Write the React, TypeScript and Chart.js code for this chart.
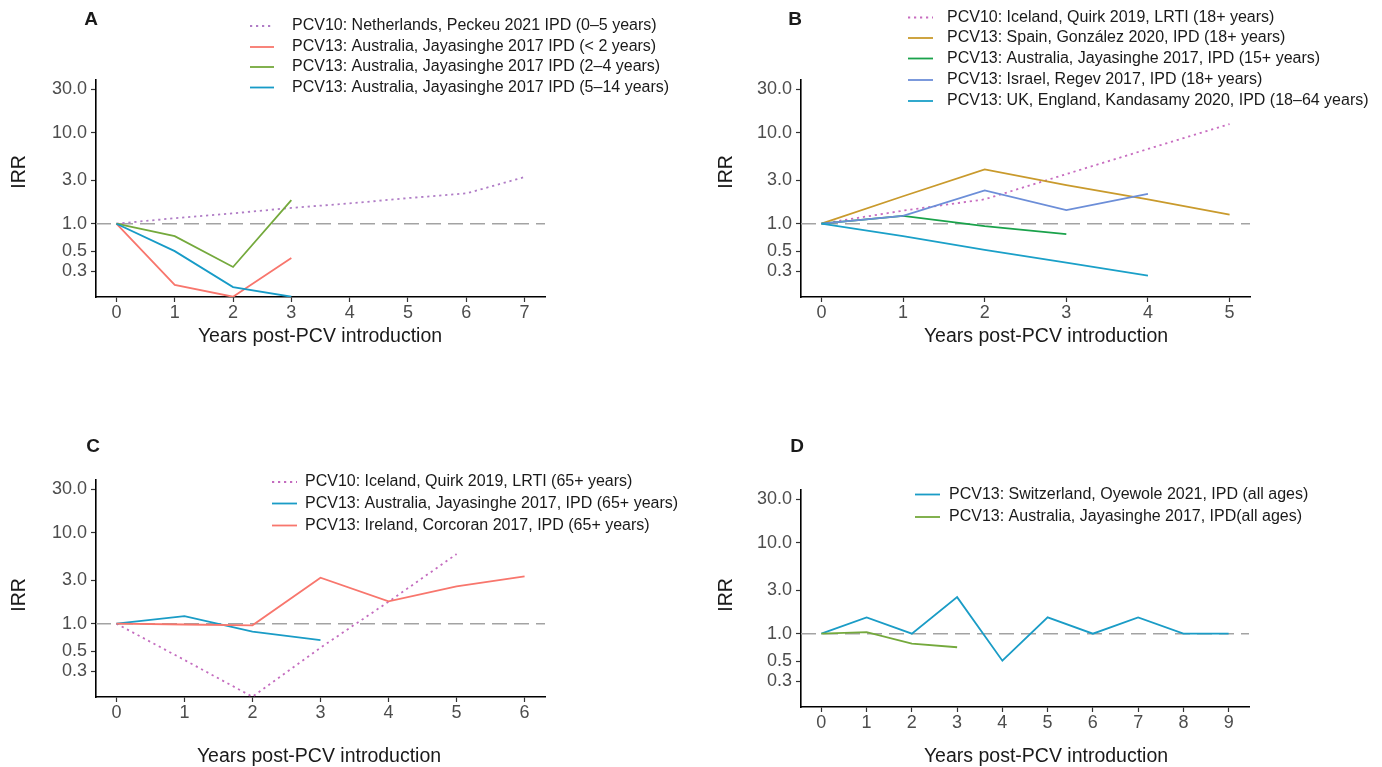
import React, { useEffect, useRef } from "react";
import { Chart, registerables } from "chart.js";

Chart.register(...registerables);

const FONT = "'Liberation Sans', Arial, Helvetica, sans-serif";

// ---------- shared axis content ----------
const IRR_TICKS = [0.3, 0.5, 1, 3, 10, 30];
const IRR_MIN = 0.157;
const IRR_MAX = 37.7;
const X_TITLE = "Years post-PCV introduction";
const Y_TITLE = "IRR";

// ---------- Panel A ----------
const A_YEARS = [0, 1, 2, 3, 4, 5, 6, 7];
const A_LABELS = [
  "PCV10: Netherlands, Peckeu 2021 IPD (0–5 years)",
  "PCV13: Australia, Jayasinghe 2017 IPD (< 2 years)",
  "PCV13: Australia, Jayasinghe 2017 IPD (2–4 years)",
  "PCV13: Australia, Jayasinghe 2017 IPD (5–14 years)",
];
const A_NL_0_5 = [1.0, 1.15, 1.3, 1.49, 1.67, 1.91, 2.15, 3.25];
const A_AU_LT2 = [1.0, 0.213, 0.158, 0.42];
const A_AU_2_4 = [1.0, 0.73, 0.335, 1.81];
const A_AU_5_14 = [1.0, 0.5, 0.202, 0.158];
const A_COLORS = ["#B07CC6", "#F8766D", "#74A93C", "#179BC7"];

// ---------- Panel B ----------
const B_YEARS = [0, 1, 2, 3, 4, 5];
const B_LABELS = [
  "PCV10: Iceland, Quirk 2019, LRTI (18+ years)",
  "PCV13: Spain, González 2020, IPD (18+ years)",
  "PCV13: Australia, Jayasinghe 2017, IPD (15+ years)",
  "PCV13: Israel, Regev 2017, IPD (18+ years)",
  "PCV13: UK, England, Kandasamy 2020, IPD (18–64 years)",
];
const B_IS_18 = [1.0, 1.39, 1.85, 3.5, 6.6, 12.4];
const B_ES_18 = [1.0, 2.0, 3.95, 2.65, 1.85, 1.26];
const B_AU_15 = [1.0, 1.22, 0.94, 0.77];
const B_IL_18 = [1.0, 1.22, 2.32, 1.41, 2.12];
const B_UK_18_64 = [1.0, 0.73, 0.515, 0.374, 0.269];
const B_COLORS = ["#C86DC0", "#C99A2C", "#1AA24B", "#6C8ED8", "#1AA0C8"];

// ---------- Panel C ----------
const C_YEARS = [0, 1, 2, 3, 4, 5, 6];
const C_LABELS = [
  "PCV10: Iceland, Quirk 2019, LRTI (65+ years)",
  "PCV13: Australia, Jayasinghe 2017, IPD (65+ years)",
  "PCV13: Ireland, Corcoran 2017, IPD (65+ years)",
];
const C_IS_65 = [1.0, 0.4, 0.158, 0.546, 1.74, 5.8];
const C_AU_65 = [1.0, 1.21, 0.82, 0.66];
const C_IE_65 = [1.0, 0.98, 0.96, 3.19, 1.76, 2.57, 3.31];
const C_COLORS = ["#C46CBF", "#1A9CC6", "#F8766D"];

// ---------- Panel D ----------
const D_YEARS = [0, 1, 2, 3, 4, 5, 6, 7, 8, 9];
const D_LABELS = [
  "PCV13: Switzerland, Oyewole 2021, IPD (all ages)",
  "PCV13: Australia, Jayasinghe 2017, IPD(all ages)",
];
const D_CH_ALL = [1.0, 1.51, 1.0, 2.52, 0.506, 1.51, 1.0, 1.51, 1.0, 1.0];
const D_AU_ALL = [1.0, 1.04, 0.78, 0.71];
const D_COLORS = ["#1A9CC6", "#74A93C"];

type Series = { label: string; values: number[]; color: string; dotted?: boolean };
type Rect = { left: number; top: number; width: number; height: number };
type PanelCfg = {
  letter: string;
  canvas: Rect;
  area: { left: number; right: number; top: number; bottom: number };
  xMin: number;
  xMax: number;
  years: number[];
  series: Series[];
  letterPos: [number, number];
  yTitlePos: [number, number];
  xTitlePos: [number, number];
  legend: { x0: number; x1: number; textX: number; rows: number[] };
};

const PANELS: PanelCfg[] = [
  {
    letter: "A",
    canvas: { left: 0, top: 0, width: 691, height: 383 },
    area: { left: 96, right: 545, top: 80, bottom: 297 },
    xMin: -0.35,
    xMax: 7.35,
    years: A_YEARS,
    series: [
      { label: A_LABELS[0], values: A_NL_0_5, color: A_COLORS[0], dotted: true },
      { label: A_LABELS[1], values: A_AU_LT2, color: A_COLORS[1] },
      { label: A_LABELS[2], values: A_AU_2_4, color: A_COLORS[2] },
      { label: A_LABELS[3], values: A_AU_5_14, color: A_COLORS[3] },
    ],
    letterPos: [91, 20],
    yTitlePos: [20, 172],
    xTitlePos: [320, 337],
    legend: { x0: 250, x1: 274, textX: 292, rows: [26, 47, 67, 87.5] },
  },
  {
    letter: "B",
    canvas: { left: 691, top: 0, width: 691, height: 383 },
    area: { left: 801, right: 1250, top: 80, bottom: 297 },
    xMin: -0.25,
    xMax: 5.25,
    years: B_YEARS,
    series: [
      { label: B_LABELS[0], values: B_IS_18, color: B_COLORS[0], dotted: true },
      { label: B_LABELS[1], values: B_ES_18, color: B_COLORS[1] },
      { label: B_LABELS[2], values: B_AU_15, color: B_COLORS[2] },
      { label: B_LABELS[3], values: B_IL_18, color: B_COLORS[3] },
      { label: B_LABELS[4], values: B_UK_18_64, color: B_COLORS[4] },
    ],
    letterPos: [795, 20],
    yTitlePos: [727, 172],
    xTitlePos: [1046, 337],
    legend: { x0: 908, x1: 933, textX: 947, rows: [17.5, 38, 58.5, 80, 101] },
  },
  {
    letter: "C",
    canvas: { left: 0, top: 383, width: 691, height: 384 },
    area: { left: 96, right: 545, top: 480, bottom: 697 },
    xMin: -0.3,
    xMax: 6.3,
    years: C_YEARS,
    series: [
      { label: C_LABELS[0], values: C_IS_65, color: C_COLORS[0], dotted: true },
      { label: C_LABELS[1], values: C_AU_65, color: C_COLORS[1] },
      { label: C_LABELS[2], values: C_IE_65, color: C_COLORS[2] },
    ],
    letterPos: [93, 447],
    yTitlePos: [20, 595],
    xTitlePos: [319, 756.5],
    legend: { x0: 272, x1: 297, textX: 305, rows: [482, 503.5, 525.5] },
  },
  {
    letter: "D",
    canvas: { left: 691, top: 383, width: 691, height: 384 },
    area: { left: 801, right: 1249, top: 490, bottom: 707 },
    xMin: -0.45,
    xMax: 9.45,
    years: D_YEARS,
    series: [
      { label: D_LABELS[0], values: D_CH_ALL, color: D_COLORS[0] },
      { label: D_LABELS[1], values: D_AU_ALL, color: D_COLORS[1] },
    ],
    letterPos: [797, 447],
    yTitlePos: [727, 595],
    xTitlePos: [1046, 756.5],
    legend: { x0: 915, x1: 940, textX: 949, rows: [494.5, 517] },
  },
];

const LINE_W = 1.8;
const DOT_DASH = [2.2, 3.8];
const REF_DASH = [15, 7];
const TEXT_DARK = "#1A1A1A";
const TICK_TEXT = "#4D4D4D";

function buildChart(canvas: HTMLCanvasElement, p: PanelCfg): Chart {
  const cv = p.canvas;
  const area = p.area;
  const yWidth = area.left - cv.left;
  const xHeight = cv.top + cv.height - area.bottom;
  const padding = {
    top: area.top - cv.top,
    left: 0,
    right: cv.left + cv.width - area.right,
    bottom: 0,
  };
  const ox = cv.left;
  const oy = cv.top;

  const datasets = p.series.map((s, i) => ({
    label: s.label,
    data: s.values.map((v, k) => ({ x: p.years[k], y: v })),
    borderColor: s.color,
    backgroundColor: s.color,
    borderWidth: LINE_W,
    borderDash: s.dotted ? DOT_DASH : [],
    pointRadius: 0,
    pointHoverRadius: 0,
    tension: 0,
    fill: false,
    order: -i,
  }));

  const decor = {
    id: "decor",
    beforeDatasetsDraw(chart: any) {
      const { ctx, chartArea } = chart;
      const y = chart.scales.y.getPixelForValue(1);
      ctx.save();
      ctx.strokeStyle = "#A3A3A3";
      ctx.lineWidth = 1.6;
      ctx.setLineDash(REF_DASH);
      ctx.beginPath();
      ctx.moveTo(chartArea.left, y);
      ctx.lineTo(chartArea.right, y);
      ctx.stroke();
      ctx.restore();
    },
    afterDraw(chart: any) {
      const ctx = chart.ctx as CanvasRenderingContext2D;
      ctx.save();
      ctx.fillStyle = TEXT_DARK;
      ctx.textAlign = "center";
      ctx.textBaseline = "middle";
      ctx.font = `bold 19px ${FONT}`;
      ctx.fillText(p.letter, p.letterPos[0] - ox, p.letterPos[1] - oy);

      ctx.font = `19.5px ${FONT}`;
      ctx.fillText(X_TITLE, p.xTitlePos[0] - ox, p.xTitlePos[1] - oy);

      ctx.save();
      ctx.translate(p.yTitlePos[0] - ox, p.yTitlePos[1] - oy);
      ctx.rotate(-Math.PI / 2);
      ctx.fillText(Y_TITLE, 0, 0);
      ctx.restore();

      ctx.font = `16px ${FONT}`;
      ctx.textAlign = "left";
      chart.data.datasets.forEach((ds: any, i: number) => {
        const y = p.legend.rows[i] - oy;
        ctx.strokeStyle = ds.borderColor;
        ctx.lineWidth = LINE_W;
        ctx.setLineDash(ds.borderDash || []);
        ctx.beginPath();
        ctx.moveTo(p.legend.x0 - ox, y);
        ctx.lineTo(p.legend.x1 - ox, y);
        ctx.stroke();
        ctx.setLineDash([]);
        ctx.fillStyle = TEXT_DARK;
        ctx.fillText(ds.label, p.legend.textX - ox, y);
      });
      ctx.restore();
    },
  };

  const gridOpts = {
    display: true,
    drawOnChartArea: false,
    drawTicks: true,
    tickLength: 5,
    tickColor: "#333333",
    tickWidth: 1.2,
  };
  const borderOpts = { display: true, color: "#000000", width: 1.6 };

  return new Chart(canvas, {
    type: "line",
    data: { datasets: datasets as any },
    plugins: [decor as any],
    options: {
      responsive: false,
      animation: false,
      devicePixelRatio: 1,
      events: [],
      layout: { padding },
      plugins: {
        legend: { display: false },
        tooltip: { enabled: false },
      },
      scales: {
        x: {
          type: "linear",
          min: p.xMin,
          max: p.xMax,
          afterBuildTicks: (s: any) => {
            s.ticks = p.years.map((v) => ({ value: v }));
          },
          afterFit: (s: any) => {
            s.height = xHeight;
          },
          ticks: {
            color: TICK_TEXT,
            font: { size: 18, family: FONT },
            padding: 0,
            autoSkip: false,
            maxRotation: 0,
            callback: (v: any) => String(v),
          },
          grid: gridOpts,
          border: borderOpts,
          title: { display: false },
        },
        y: {
          type: "logarithmic",
          min: IRR_MIN,
          max: IRR_MAX,
          afterBuildTicks: (s: any) => {
            s.ticks = IRR_TICKS.map((v) => ({ value: v }));
          },
          afterFit: (s: any) => {
            s.width = yWidth;
          },
          ticks: {
            color: TICK_TEXT,
            font: { size: 18, family: FONT },
            padding: 4,
            autoSkip: false,
            callback: (v: any) => Number(v).toFixed(1),
          },
          grid: gridOpts,
          border: borderOpts,
          title: { display: false },
        },
      },
    } as any,
  });
}

function Panel({ p }: { p: PanelCfg }) {
  const ref = useRef<HTMLCanvasElement | null>(null);
  useEffect(() => {
    if (!ref.current) return;
    const chart = buildChart(ref.current, p);
    return () => chart.destroy();
  }, [p]);
  return (
    <canvas
      ref={ref}
      width={p.canvas.width}
      height={p.canvas.height}
      style={{
        position: "absolute",
        left: p.canvas.left,
        top: p.canvas.top,
        width: p.canvas.width,
        height: p.canvas.height,
        display: "block",
      }}
    />
  );
}

export default function App() {
  return (
    <div
      style={{
        position: "absolute",
        left: 0,
        top: 0,
        width: 1382,
        height: 767,
        background: "#ffffff",
        overflow: "hidden",
      }}
    >
      {PANELS.map((p) => (
        <Panel key={p.letter} p={p} />
      ))}
    </div>
  );
}
